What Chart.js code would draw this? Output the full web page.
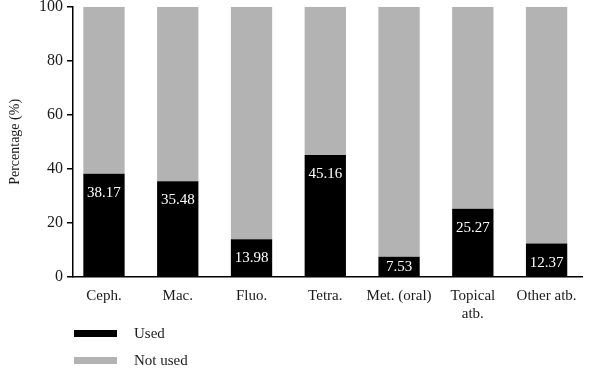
<!DOCTYPE html>
<html>
<head>
<meta charset="utf-8">
<script src="https://cdn.jsdelivr.net/npm/chart.js@4"></script>
<style>
html,body{margin:0;padding:0;background:#fff;}
#wrap{width:600px;height:370px;position:relative;}
</style>
</head>
<body>
<div id="wrap"><canvas id="c" width="600" height="370"></canvas></div>
<script>
const categories = ['Ceph.', 'Mac.', 'Fluo.', 'Tetra.', 'Met. (oral)', ['Topical', 'atb.'], 'Other atb.'];
const usedValues = [38.17, 35.48, 13.98, 45.16, 7.53, 25.27, 12.37];
const notUsedValues = [61.83, 64.52, 86.02, 54.84, 92.47, 74.73, 87.63];
const yTicks = [0, 20, 40, 60, 80, 100];
const seriesNames = ['Used', 'Not used'];
const FONT = "'Liberation Serif', 'DejaVu Serif', serif";

const labelPlugin = {
  id: 'barLabels',
  afterDatasetsDraw(chart) {
    const ctx = chart.ctx;
    const meta = chart.getDatasetMeta(0);
    ctx.save();
    ctx.fillStyle = '#ffffff';
    ctx.font = '15px ' + FONT;
    ctx.textAlign = 'center';
    ctx.textBaseline = 'middle';
    meta.data.forEach((bar, i) => {
      const y = Math.min(bar.y + 19, bar.base - 9);
      ctx.fillText(usedValues[i].toFixed(2), bar.x, y);
    });
    ctx.restore();
  }
};

const legendPlugin = {
  id: 'customLegend',
  afterDraw(chart) {
    const ctx = chart.ctx;
    ctx.save();
    ctx.font = '15px ' + FONT;
    ctx.textBaseline = 'middle';
    ctx.textAlign = 'left';
    chart.data.datasets.forEach((ds, i) => {
      const yMid = 333.5 + i * 27;
      ctx.fillStyle = ds.backgroundColor;
      ctx.fillRect(74, yMid - 3.5, 43, 7);
      ctx.fillStyle = '#1a1a1a';
      ctx.fillText(ds.label, 134, yMid + 1);
    });
    ctx.restore();
  }
};

// category spacing as in the reference (first bar sits a bit closer to the y axis)
const xRangePlugin = {
  id: 'xRange',
  afterLayout(chart) {
    const s = chart.scales.x;
    s._startValue = -0.42;
    s._valueRange = 6.9;
  }
};

new Chart(document.getElementById('c'), {
  type: 'bar',
  data: {
    labels: categories,
    datasets: [
      { label: seriesNames[0], data: usedValues, backgroundColor: '#000000', borderWidth: 0 },
      { label: seriesNames[1], data: notUsedValues, backgroundColor: '#b3b3b3', borderWidth: 0 }
    ]
  },
  options: {
    responsive: false,
    animation: false,
    devicePixelRatio: 1,
    categoryPercentage: 1,
    barPercentage: 0.56,
    layout: { padding: { top: 0, right: 18, bottom: 48, left: 0 } },
    plugins: {
      legend: { display: false },
      tooltip: { enabled: false }
    },
    scales: {
      x: {
        stacked: true,
        grid: { display: false },
        border: { display: true, color: '#000', width: 1.5 },
        ticks: { color: '#1a1a1a', font: { family: FONT, size: 15 }, padding: 2, maxRotation: 0, autoSkip: false },
        afterFit(scale) { scale.height = 45; }
      },
      y: {
        stacked: true,
        min: 0,
        max: 100,
        afterBuildTicks(scale) { scale.ticks = yTicks.map(v => ({ value: v })); },
        grid: { display: true, drawOnChartArea: false, drawTicks: true, tickLength: 6, color: '#000', lineWidth: 1.5 },
        border: { display: true, color: '#000', width: 1.5 },
        ticks: { color: '#1a1a1a', font: { family: FONT, size: 16, lineHeight: 0.35 }, padding: 4 },
        title: { display: true, text: 'Percentage (%)', color: '#1a1a1a', font: { family: FONT, size: 14 }, padding: { top: 7, bottom: 0 } },
        afterFit(scale) { scale.width = 73; }
      }
    }
  },
  plugins: [labelPlugin, legendPlugin, xRangePlugin]
});
</script>
</body>
</html>
